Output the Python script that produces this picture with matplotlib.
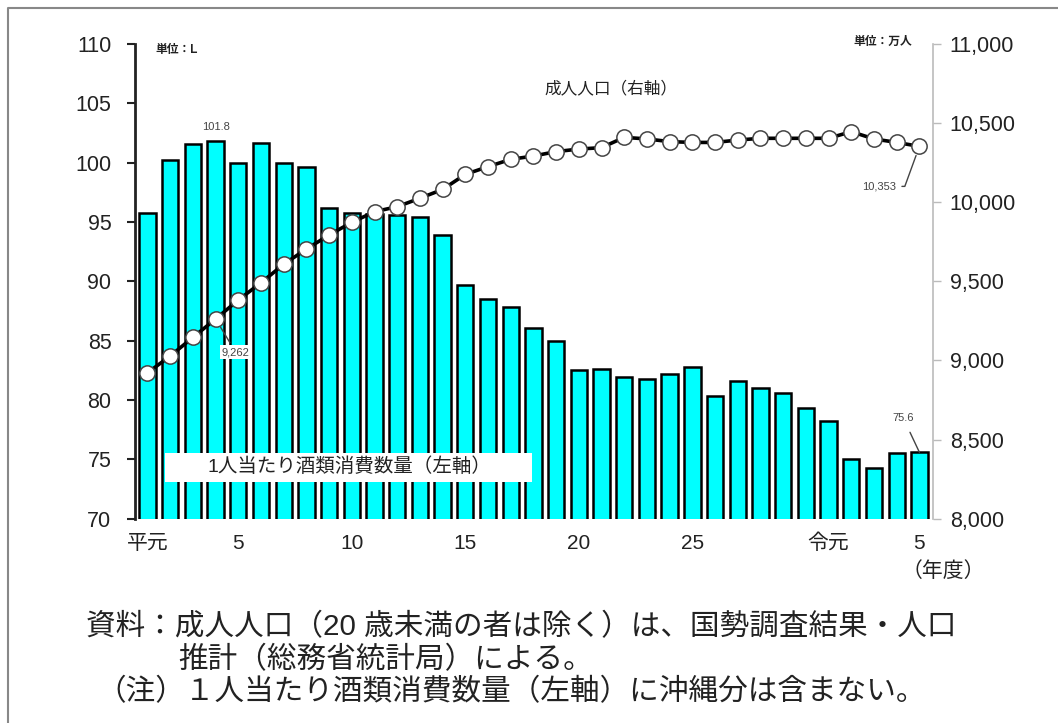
import matplotlib
matplotlib.use("Agg")
import matplotlib.pyplot as plt
from matplotlib.lines import Line2D
from matplotlib.patches import Rectangle

plt.rcParams["font.family"] = ["Liberation Sans", "Noto Sans CJK JP"]

# fiscal years: Heisei 1 .. Heisei 30, Reiwa 1 .. Reiwa 5
years = list(range(35))
tick_pos = [0, 4, 9, 14, 19, 24, 30, 34]
tick_labels = ["平元", "5", "10", "15", "20", "25", "令元", "5"]

# litres per adult (left axis)
per_capita = [95.8, 100.2, 101.6, 101.8, 100.0, 101.7, 100.0, 99.6, 96.2, 95.8,
              95.7, 95.6, 95.4, 93.9, 89.7, 88.5, 87.8, 86.1, 85.0, 82.5,
              82.6, 81.9, 81.8, 82.2, 82.8, 80.3, 81.6, 81.0, 80.6, 79.3,
              78.2, 75.0, 74.3, 75.5, 75.6]

# adult population, 10k persons (right axis)
adults = [8922, 9028, 9146, 9262, 9382, 9491, 9608, 9704, 9793, 9873,
          9940, 9972, 10025, 10081, 10176, 10225, 10271, 10292, 10320, 10336,
          10345, 10410, 10400, 10383, 10378, 10378, 10393, 10404, 10404, 10404,
          10404, 10446, 10400, 10378, 10353]

W, H = 1058, 723
fig = plt.figure(figsize=(W / 100, H / 100), dpi=100)


def fx(px):
    return px / W


def fy(py):
    return 1 - py / H


ax = fig.add_axes([fx(135), fy(518.7), fx(933) - fx(135), fy(44) - fy(518.7)])
ax2 = ax.twinx()

ax.bar(years, per_capita, width=0.72, color="#00FFFF", edgecolor="black",
       linewidth=1.8, zorder=2)
ax.set_xlim(-0.55, 34.6)
ax.set_ylim(70, 110)
ax.set_yticks(range(70, 111, 5))
ax.set_xticks(tick_pos)
ax.set_xticklabels(tick_labels)
ax.tick_params(axis="x", length=0, pad=11, labelsize=15, labelcolor="#222222")
ax.tick_params(axis="y", length=6, width=1.5, pad=11, labelsize=15.5,
               labelcolor="#222222", color="#222222")
for side in ("top", "right", "bottom"):
    ax.spines[side].set_visible(False)
ax.spines["left"].set_linewidth(2)
ax.spines["left"].set_color("#222222")

ax2.plot(years, adults, color="black", linewidth=2.6, marker="o",
         markersize=11, markerfacecolor="white", markeredgecolor="#444444",
         markeredgewidth=1.1, zorder=3)
ax2.set_ylim(8000, 11000)
ax2.set_yticks(range(8000, 11001, 500))
ax2.yaxis.set_major_formatter(matplotlib.ticker.StrMethodFormatter("{x:,.0f}"))
ax2.tick_params(axis="y", length=6, width=1, pad=6, labelsize=15.5,
                labelcolor="#222222", color="#bbbbbb")
for side in ("top", "left", "bottom"):
    ax2.spines[side].set_visible(False)
ax2.spines["right"].set_color("#bbbbbb")
ax2.spines["right"].set_linewidth(1.2)

# value call-outs
ax.annotate(f"{per_capita[3]}", xy=(3, per_capita[3]), xytext=(0, 14),
            textcoords="offset pixels", ha="center", va="center",
            fontsize=8, color="#444444")
ax.annotate(f"{per_capita[34]}", xy=(34, per_capita[34]), xytext=(-16, 34),
            textcoords="offset pixels", ha="center", va="center",
            fontsize=8, color="#444444",
            arrowprops=dict(arrowstyle="-", color="#444444", lw=1,
                            shrinkA=5, shrinkB=0))
ax2.annotate(f"{adults[3]:,}", xy=(3, adults[3]), xytext=(20, -33),
             textcoords="offset pixels", ha="center", va="center",
             fontsize=8, color="#444444",
             bbox=dict(facecolor="white", edgecolor="none", pad=1.5),
             arrowprops=dict(arrowstyle="-", color="#444444", lw=1,
                             shrinkA=2, shrinkB=7))
ax2.annotate(f"{adults[34]:,}", xy=(34, adults[34]), xytext=(-40, -40),
             textcoords="offset pixels", ha="center", va="center",
             fontsize=8, color="#444444",
             arrowprops=dict(arrowstyle="-", color="#444444", lw=1,
                             shrinkA=2, shrinkB=7,
                             connectionstyle="angle,angleA=0,angleB=70,rad=0"))

# series labels
fig.patches.append(Rectangle((fx(165), fy(482)), fx(532) - fx(165),
                             fy(453) - fy(482), transform=fig.transFigure,
                             facecolor="white", edgecolor="none", zorder=5))
fig.text(fx(349), fy(467), "1人当たり酒類消費数量（左軸）", ha="center",
         va="center", fontsize=14, color="#222222", zorder=6)
fig.text(fx(611), fy(88), "成人人口（右軸）", ha="center", va="center",
         fontsize=12, color="#222222")
fig.text(fx(155), fy(50), "単位：L", ha="left", va="center", fontsize=8.5,
         fontweight="bold", color="#222222")
fig.text(fx(912), fy(42), "単位：万人", ha="right", va="center", fontsize=8.5,
         fontweight="bold", color="#222222")
fig.text(fx(943), fy(571), "（年度）", ha="center", va="center", fontsize=15,
         color="#222222")

# notes below the chart
note_kw = dict(ha="left", va="center", fontsize=21.3, color="#222222")
fig.text(fx(86), fy(627), "資料：成人人口（20 歳未満の者は除く）は、国勢調査結果・人口", **note_kw)
fig.text(fx(178), fy(660), "推計（総務省統計局）による。", **note_kw)
fig.text(fx(96), fy(692), "（注）１人当たり酒類消費数量（左軸）に沖縄分は含まない。", **note_kw)

# outer frame
fig.lines.append(Line2D([fx(8), fx(8), 1], [0, fy(8), fy(8)],
                        transform=fig.transFigure, color="#888888", lw=1.5))

fig.savefig("out.png", dpi=100)
